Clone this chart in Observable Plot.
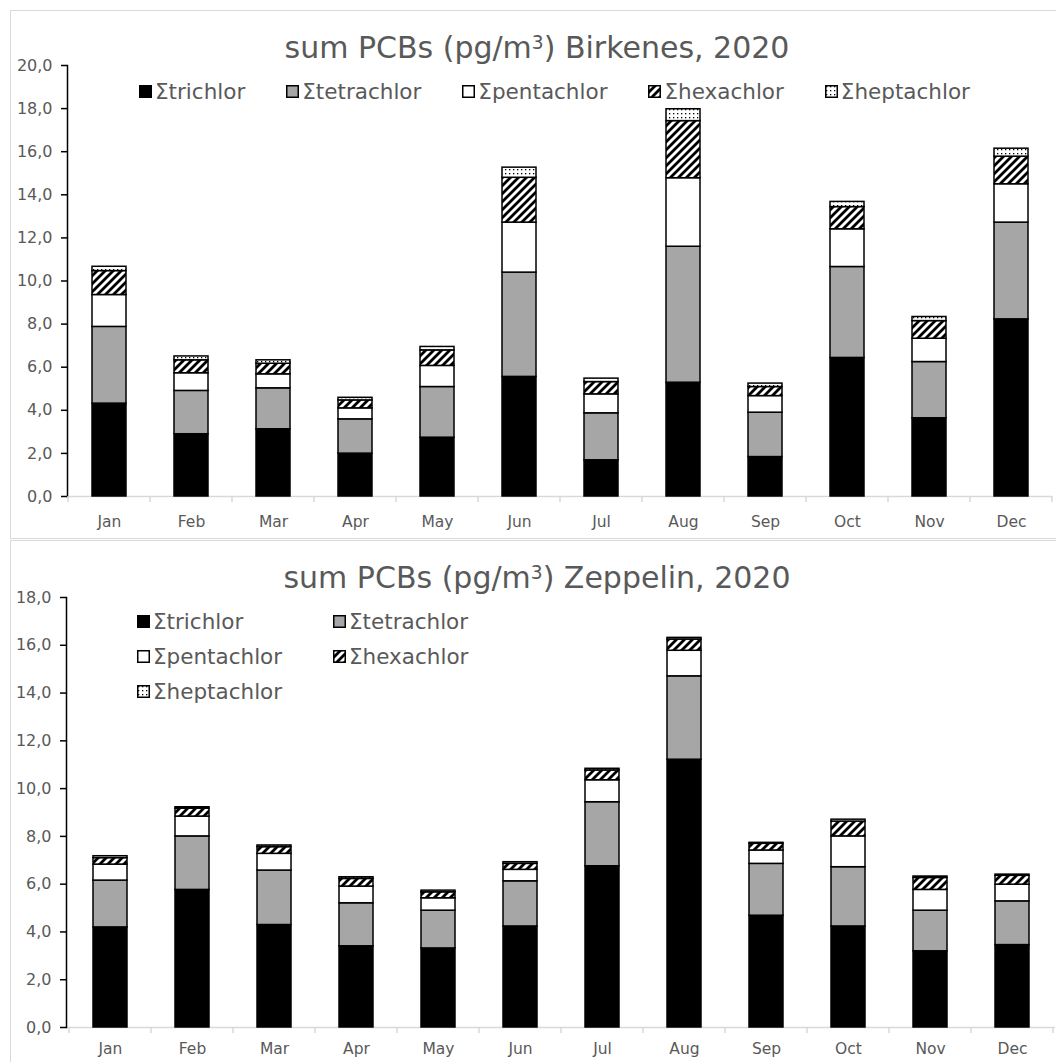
<!DOCTYPE html>
<html>
<head>
<meta charset="utf-8">
<script src="https://cdn.jsdelivr.net/npm/d3@7"></script>
<script src="https://cdn.jsdelivr.net/npm/@observablehq/plot@0.6"></script>
<style>
  body { margin: 0; background: #fff; overflow: hidden; }
  #page { position: relative; width: 1056px; height: 1062px; overflow: hidden;
          font-family: "DejaVu Sans", Verdana, sans-serif; color: #595959; }
  .border { position: absolute; border: 1.5px solid #d9d9d9; box-sizing: border-box; }
  .plot { position: absolute; left: 0; }
  .title { position: absolute; left: 10px; width: 1054px; text-align: center;
           font-size: 30px; line-height: 30px; white-space: nowrap; }
  .title sup { font-size: 0.62em; vertical-align: 0.5em; line-height: 0; }
  .legend { position: absolute; font-size: 21.5px; }
  .item { display: flex; align-items: center; white-space: nowrap; }
  .item svg { margin-right: 3px; flex: none; }
</style>
</head>
<body>
<div id="page"></div>
<script>
// Months on the x axis
const months = ["Jan", "Feb", "Mar", "Apr", "May", "Jun", "Jul", "Aug", "Sep", "Oct", "Nov", "Dec"];

// PCB homologue groups (stack order, bottom to top)
const series = ["Σtrichlor", "Σtetrachlor", "Σpentachlor", "Σhexachlor", "Σheptachlor"];

// Birkenes 2020, pg/m³
const birkTri   = [4.31, 2.89, 3.12, 1.99, 2.73, 5.55, 1.68, 5.28, 1.83, 6.43, 3.63, 8.22];
const birkTetra = [3.56, 2.01, 1.90, 1.59, 2.35, 4.84, 2.18, 6.31, 2.06, 4.22, 2.61, 4.49];
const birkPenta = [1.48, 0.82, 0.65, 0.51, 0.98, 2.32, 0.88, 3.18, 0.77, 1.75, 1.08, 1.78];
const birkHexa  = [1.11, 0.60, 0.49, 0.37, 0.72, 2.08, 0.57, 2.65, 0.42, 1.03, 0.82, 1.28];
const birkHepta = [0.20, 0.18, 0.16, 0.12, 0.16, 0.47, 0.16, 0.55, 0.16, 0.24, 0.19, 0.37];

// Zeppelin 2020, pg/m³
const zepTri   = [4.19, 5.76, 4.29, 3.40, 3.31, 4.23, 6.75, 11.21, 4.68, 4.23, 3.19, 3.45];
const zepTetra = [1.96, 2.24, 2.28, 1.80, 1.58, 1.89, 2.68, 3.49, 2.17, 2.48, 1.70, 1.83];
const zepPenta = [0.67, 0.83, 0.70, 0.70, 0.52, 0.48, 0.92, 1.07, 0.56, 1.29, 0.87, 0.70];
const zepHexa  = [0.27, 0.33, 0.28, 0.32, 0.25, 0.25, 0.41, 0.47, 0.28, 0.62, 0.50, 0.37];
const zepHepta = [0.08, 0.06, 0.07, 0.07, 0.07, 0.07, 0.07, 0.07, 0.04, 0.08, 0.06, 0.05];

// Y-axis tick values
const yTicksBirkenes = [0, 2, 4, 6, 8, 10, 12, 14, 16, 18, 20];
const yTicksZeppelin = [0, 2, 4, 6, 8, 10, 12, 14, 16, 18];

// Fills: solid black, grey, white, diagonal hatch, dotted
const fills = ["#000000", "#a6a6a6", "#ffffff", "url(#hatch-diag)", "url(#hatch-dots)"];

const tickFormat = d => d.toFixed(1).replace(".", ",");

function toRows(columns) {
  const rows = [];
  months.forEach((m, i) => {
    series.forEach((s, j) => rows.push({month: m, group: s, value: columns[j][i]}));
  });
  return rows;
}

const page = document.getElementById("page");

// Shared pattern definitions
page.insertAdjacentHTML("beforeend", `
<svg width="0" height="0" style="position:absolute">
  <defs>
    <pattern id="hatch-diag" patternUnits="userSpaceOnUse" width="8" height="8">
      <rect width="8" height="8" fill="#fff"/>
      <path d="M-2,2 l4,-4 M0,8 l8,-8 M6,10 l4,-4" stroke="#000" stroke-width="2.8"/>
    </pattern>
    <pattern id="hatch-dots" patternUnits="userSpaceOnUse" width="4" height="4">
      <rect width="4" height="4" fill="#fff"/>
      <rect x="1" y="1" width="1.3" height="1.3" fill="#000"/>
    </pattern>
  </defs>
</svg>`);

function addBox(cls, styles) {
  const el = document.createElement("div");
  el.className = cls;
  Object.assign(el.style, styles);
  page.appendChild(el);
  return el;
}

function swatch(fill) {
  return `<svg width="13" height="13"><rect x="0.75" y="0.75" width="11.5" height="11.5" fill="${fill}" stroke="#000" stroke-width="1.5"/></svg>`;
}

function panel({rows, top, height, yMax, yTicks, marginTop, marginBottom, marginLeft, marginRight, labelGap}) {
  const chart = Plot.plot({
    width: 1056,
    height,
    marginTop, marginBottom, marginLeft, marginRight,
    style: {fontFamily: "'DejaVu Sans', Verdana, sans-serif", background: "transparent", overflow: "visible"},
    x: {domain: months, paddingInner: 0.59, paddingOuter: 0.295, label: null},
    y: {domain: [0, yMax], label: null},
    color: {domain: series, range: fills},
    marks: [
      Plot.ruleY([0], {stroke: "#d9d9d9", strokeWidth: 1.5}),
      Plot.barY(rows, {x: "month", y: "value", fill: "group", z: "group", order: series,
                       stroke: "#000", strokeWidth: 1.5}),
      Plot.frame({anchor: "left", stroke: "#000", strokeWidth: 1.5}),
      Plot.axisY({ticks: yTicks, tickFormat, tickSize: 6, tickPadding: 9,
                  stroke: "#000", fill: "#595959", fontSize: 16, strokeWidth: 1.5}),
      Plot.axisX({tickSize: 0, tickPadding: labelGap, fill: "#595959", fontSize: 15.5})
    ]
  });

  // Category separators below the baseline, placed from the band scale
  const sx = chart.scale("x");
  const sy = chart.scale("y");
  const step = sx.apply(months[1]) - sx.apply(months[0]);
  const half = (step - sx.bandwidth) / 2;
  const edges = months.map(m => sx.apply(m) - half)
    .concat(sx.apply(months[months.length - 1]) + sx.bandwidth + half);
  const y0 = sy.apply(0);
  d3.select(chart).append("g")
    .selectAll("line").data(edges).join("line")
    .attr("x1", d => d).attr("x2", d => d)
    .attr("y1", y0).attr("y2", y0 + 6)
    .attr("stroke", "#d9d9d9").attr("stroke-width", 1.5);

  const holder = addBox("plot", {top: top + "px"});
  holder.appendChild(chart);
}

// Chart area outlines
addBox("border", {left: "10px", top: "10px", width: "1060px", height: "529px"});
addBox("border", {left: "10px", top: "540px", width: "1060px", height: "540px"});

// Birkenes
panel({rows: toRows([birkTri, birkTetra, birkPenta, birkHexa, birkHepta]),
       top: 0, height: 540, yMax: 20, yTicks: yTicksBirkenes,
       marginTop: 65, marginBottom: 44, marginLeft: 67, marginRight: 4, labelGap: 19});

// Zeppelin
panel({rows: toRows([zepTri, zepTetra, zepPenta, zepHexa, zepHepta]),
       top: 540, height: 522, yMax: 18, yTicks: yTicksZeppelin,
       marginTop: 57, marginBottom: 35, marginLeft: 66, marginRight: 1, labelGap: 15});

// Titles
const t1 = addBox("title", {top: "33px"});
t1.innerHTML = "sum PCBs (pg/m<sup>3</sup>) Birkenes, 2020";
const t2 = addBox("title", {top: "563px"});
t2.innerHTML = "sum PCBs (pg/m<sup>3</sup>) Zeppelin, 2020";

// Legend, one row (Birkenes)
const lg1 = addBox("legend", {left: "139px", top: "78px", width: "831px", height: "26px",
                              display: "flex", justifyContent: "space-between", alignItems: "center"});
lg1.innerHTML = series.map((s, i) => `<div class="item">${swatch(fills[i])}<span>${s}</span></div>`).join("");

// Legend, two columns (Zeppelin)
const lg2 = addBox("legend", {left: "137px", top: "604px", display: "grid",
                              gridTemplateColumns: "196px auto", gridAutoRows: "35px", alignItems: "center"});
lg2.innerHTML = series.map((s, i) => `<div class="item">${swatch(fills[i])}<span>${s}</span></div>`).join("");
</script>
</body>
</html>
